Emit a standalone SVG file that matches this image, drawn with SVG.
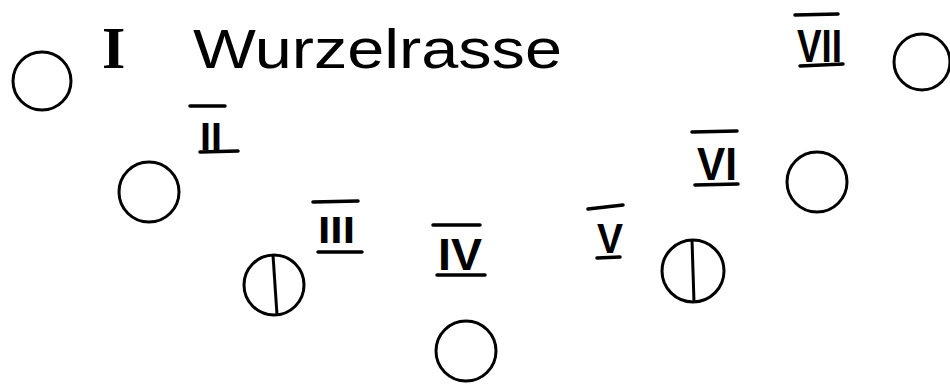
<svg xmlns="http://www.w3.org/2000/svg" width="950" height="385" viewBox="0 0 950 385">
<style>
.c{fill:none;stroke:#000;stroke-width:3}
.ln{stroke:#000;stroke-width:3.5;stroke-linecap:round;fill:none}
.rn{font-family:"Liberation Sans","DejaVu Sans",sans-serif;font-weight:bold;fill:#000}
.title{font-family:"Liberation Sans","DejaVu Sans",sans-serif;font-size:56px;fill:#000}
.one{font-family:"Liberation Serif","DejaVu Serif",serif;font-size:60px;font-weight:bold;fill:#000}
</style>
<rect width="950" height="385" fill="#fff"/>
<g id="title">
  <text class="one" x="102" y="68">I</text>
  <text class="title" x="193" y="68" textLength="369" lengthAdjust="spacingAndGlyphs">Wurzelrasse</text>
</g>
<g id="circle-I"><circle class="c" cx="42" cy="81" r="29"/></g>
<g id="node-II">
  <line class="ln" x1="190" y1="106" x2="225" y2="106"/>
  <text class="rn" x="200" y="150" font-size="38" textLength="22" lengthAdjust="spacingAndGlyphs">II</text>
  <line class="ln" x1="200" y1="152" x2="238" y2="151"/>
  <circle class="c" cx="149" cy="192" r="30"/>
</g>
<g id="node-III">
  <line class="ln" x1="313" y1="202" x2="358" y2="201"/>
  <text class="rn" x="318" y="243" font-size="37" textLength="37" lengthAdjust="spacingAndGlyphs">III</text>
  <line class="ln" x1="318" y1="252" x2="362" y2="252"/>
  <circle class="c" cx="274" cy="285" r="30"/>
  <line class="c" x1="273" y1="255" x2="277" y2="315"/>
</g>
<g id="node-IV">
  <line class="ln" x1="433" y1="225" x2="480" y2="225"/>
  <text class="rn" x="438" y="270" font-size="44" textLength="44" lengthAdjust="spacingAndGlyphs">IV</text>
  <line class="ln" x1="437" y1="275" x2="485" y2="275"/>
  <circle class="c" cx="466" cy="351" r="30"/>
</g>
<g id="node-V">
  <line class="ln" x1="588" y1="209" x2="623" y2="205"/>
  <text class="rn" x="597" y="253" font-size="42" textLength="26" lengthAdjust="spacingAndGlyphs">V</text>
  <line class="ln" x1="597" y1="258" x2="620" y2="257"/>
  <circle class="c" cx="693" cy="271" r="31"/>
  <line class="c" x1="692" y1="240" x2="694" y2="302"/>
</g>
<g id="node-VI">
  <line class="ln" x1="692" y1="132" x2="737" y2="131"/>
  <text class="rn" x="697" y="180" font-size="46" textLength="40" lengthAdjust="spacingAndGlyphs">VI</text>
  <line class="ln" x1="695" y1="185" x2="738" y2="184"/>
  <circle class="c" cx="817" cy="182" r="30"/>
</g>
<g id="node-VII">
  <line class="ln" x1="795" y1="15" x2="838" y2="14"/>
  <text class="rn" x="797" y="62" font-size="47" textLength="45" lengthAdjust="spacingAndGlyphs">VII</text>
  <line class="ln" x1="800" y1="66" x2="843" y2="64"/>
  <circle class="c" cx="922" cy="62" r="28"/>
</g>
</svg>
